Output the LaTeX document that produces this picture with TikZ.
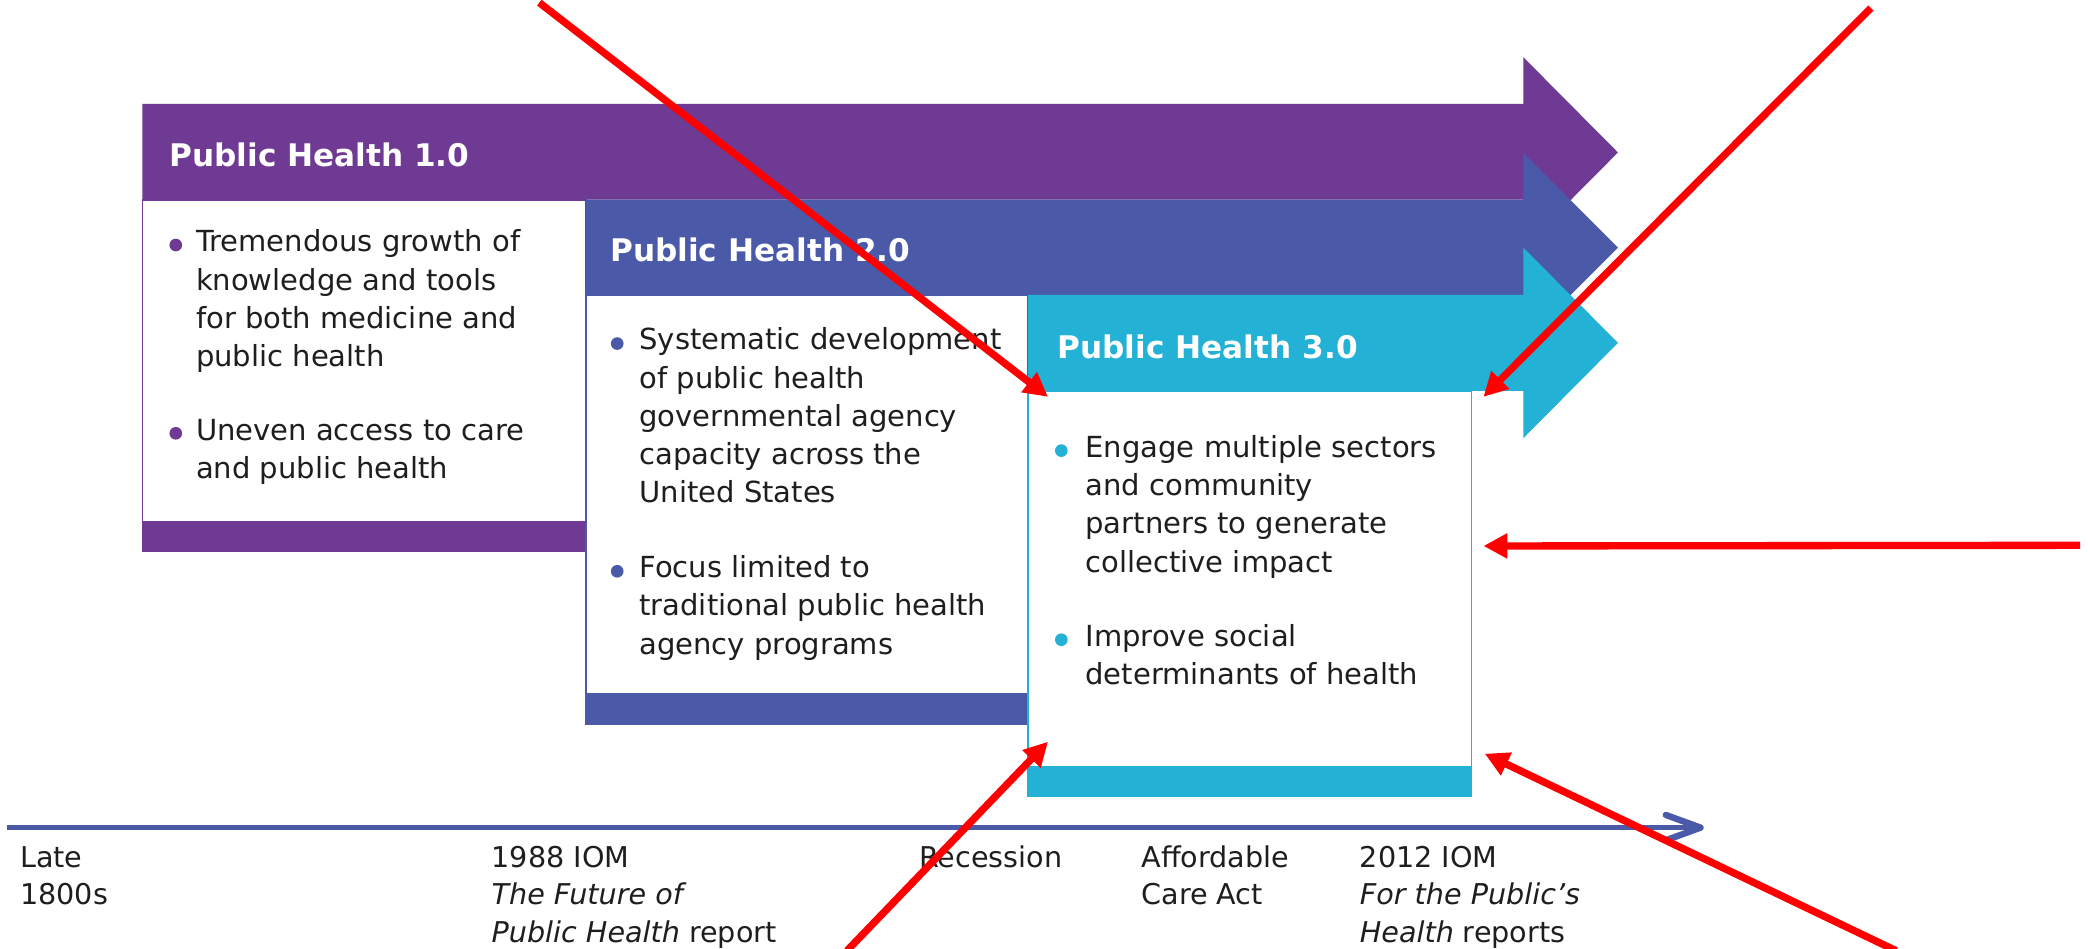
\documentclass[tikz,border=0pt]{standalone}
\usepackage{fontspec}
\setmainfont{DejaVu Sans}
\usetikzlibrary{arrows.meta}
\definecolor{phpurple}{HTML}{6E3A93}
\definecolor{phblue}{HTML}{4A5AA8}
\definecolor{phcyan}{HTML}{23B1D5}
\definecolor{txtcol}{HTML}{1E1E1E}
\newcommand{\tstrut}{\rule{0pt}{22pt}}
\begin{document}
\begin{tikzpicture}[x=1pt,y=-1pt,
  panel/.style={draw=#1, line width=1.2pt, fill=white, anchor=north west, inner sep=0pt, outer sep=0pt},
  hdr/.style={text=white, font=\fontsize{23.4}{28}\selectfont\bfseries, anchor=base west, inner sep=0pt},
  bodytext/.style={text=txtcol, font=\fontsize{21.8}{28.7}\selectfont, align=left, anchor=north west, inner sep=0pt},
  tltext/.style={text=txtcol, font=\fontsize{21.5}{28.3}\selectfont, align=left, anchor=north west, inner sep=0pt},
  bdot/.style={circle, fill=#1, inner sep=0pt, minimum size=9.5pt},
  callout/.style={draw=red, line width=5.5pt, -{Triangle[length=18pt,width=18pt]}},
  timeline/.style={draw=phblue, line width=3.2pt},
  chevron/.style={draw=phblue, line width=4.8pt, line join=round, line cap=round}
]
\useasboundingbox (0,0) rectangle (1568,712);

% ---- Public Health 1.0 ----
\fill[phpurple] (107,78) -- (1144,78) -- (1144,43) -- (1215,114.5) -- (1144,186) -- (1144,150) -- (107,150) -- cycle;
\node[panel=phpurple, minimum width=333pt, minimum height=264pt] (b1) at (107,150) {};
\fill[phpurple] (b1.south west) rectangle ++(333,-23);

% ---- Public Health 2.0 ----
\fill[phblue] (440,150) -- (1144,150) -- (1144,115) -- (1215,186) -- (1144,257) -- (1144,221.5) -- (440,221.5) -- cycle;
\node[panel=phblue, minimum width=332pt, minimum height=322.5pt] (b2) at (440,221.5) {};
\fill[phblue] (b2.south west) rectangle ++(332,-23.5);

% ---- Public Health 3.0 ----
\fill[phcyan] (772,221.5) -- (1144,221.5) -- (1144,186) -- (1215,257.5) -- (1144,329) -- (1144,293.5) -- (772,293.5) -- cycle;
\node[panel=phcyan, minimum width=333pt, minimum height=304.5pt] (b3) at (772,293.5) {};
\fill[phcyan] (b3.south west) rectangle ++(333,-23);

% ---- headers ----
\node[hdr] (h1) at (127,124.7) {Public Health 1.0};
\node[hdr] (h2) at (458,196.3) {Public Health 2.0};
\node[hdr] (h3) at (794,269) {Public Health 3.0};

% ---- bullets PH1 ----
\node[bdot=phpurple] (d11) at (132,184) {};
\node[bodytext] (t11) at (147,167) {\tstrut Tremendous growth of\\knowledge and tools\\for both medicine and\\public health};
\node[bdot=phpurple] (d12) at (132,325.4) {};
\node[bodytext] (t12) at (147,308.4) {\tstrut Uneven access to care\\and public health};

% ---- bullets PH2 ----
\node[bdot=phblue] (d21) at (463.5,258) {};
\node[bodytext] (t21) at (480,240.6) {\tstrut Systematic development\\of public health\\governmental agency\\capacity across the\\United States};
\node[bdot=phblue] (d22) at (463.5,429) {};
\node[bodytext] (t22) at (480,411.6) {\tstrut Focus limited to\\traditional public health\\agency programs};

% ---- bullets PH3 ----
\node[bdot=phcyan] (d31) at (797,338.4) {};
\node[bodytext] (t31) at (815,321.4) {\tstrut Engage multiple sectors\\and community\\partners to generate\\collective impact};
\node[bdot=phcyan] (d32) at (797,480.4) {};
\node[bodytext] (t32) at (815,463.4) {\tstrut Improve social\\determinants of health};

% ---- timeline ----
\coordinate (tlA) at (5,621.5);
\coordinate (tlB) at (1277,621.5);
\draw[timeline] (tlA) -- (tlB);
\draw[chevron] ([shift={(-26,-9.5)}]tlB) -- (tlB) -- ([shift={(-26,9.5)}]tlB);
\node[tltext] (l1) at (15,629) {\tstrut Late\\1800s};
\node[tltext] (l2) at (369,629) {\tstrut 1988 IOM\\\textit{The Future of}\\\textit{Public Health} report};
\node[tltext] (l3) at (690,629) {\tstrut Recession};
\node[tltext] (l4) at (857,629) {\tstrut Affordable\\Care Act};
\node[tltext] (l5) at (1021,629) {\tstrut 2012 IOM\\\textit{For the Public’s}\\\textit{Health} reports};

% ---- red callouts ----
\coordinate (s1) at (405,2);
\coordinate (s2) at (1405,6);
\coordinate (s3) at (1562,409.5);
\coordinate (s4) at (1424,714);
\coordinate (s5) at (636,714);
\coordinate (e1) at ([shift={(15,4.5)}]b3.north west);
\coordinate (e2) at ([shift={(9,4.5)}]b3.north east);
\coordinate (e3) at (1114,410);
\coordinate (e4) at ([shift={(10,-32)}]b3.south east);
\coordinate (e5) at ([shift={(15,-41)}]b3.south west);
\draw[callout] (s1) -- (e1);
\draw[callout] (s2) -- (e2);
\draw[callout] (s3) -- (e3);
\draw[callout] (s4) -- (e4);
\draw[callout] (s5) -- (e5);
\end{tikzpicture}
\end{document}
